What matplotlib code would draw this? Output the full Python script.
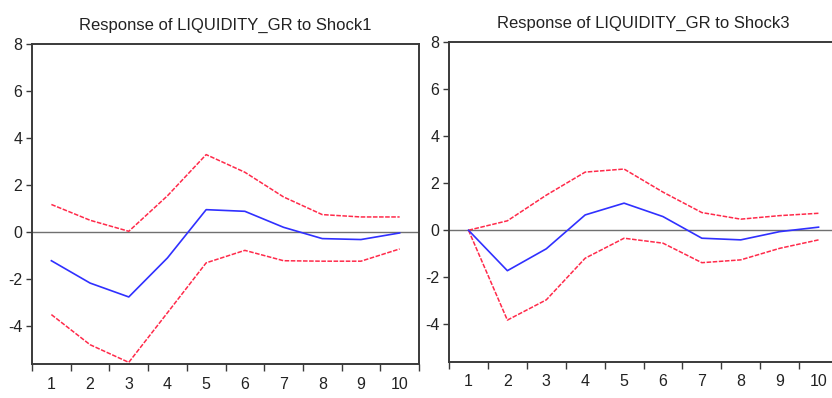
import numpy as np
from matplotlib import pyplot as plt
from matplotlib.ticker import FixedLocator

plt.rcParams['font.family'] = ['Liberation Sans', 'DejaVu Sans']
plt.rcParams['axes.unicode_minus'] = False

periods = [1, 2, 3, 4, 5, 6, 7, 8, 9, 10]

# Shock1
resp1 = [-1.21, -2.16, -2.75, -1.09, 0.96, 0.89, 0.21, -0.27, -0.31, -0.03]
upper1 = [1.18, 0.51, 0.04, 1.55, 3.30, 2.55, 1.50, 0.75, 0.65, 0.65]
lower1 = [-3.50, -4.78, -5.53, -3.42, -1.30, -0.77, -1.21, -1.23, -1.23, -0.71]

# Shock3
resp3 = [0.0, -1.72, -0.79, 0.65, 1.15, 0.58, -0.34, -0.41, -0.06, 0.13]
upper3 = [0.0, 0.40, 1.49, 2.47, 2.60, 1.62, 0.75, 0.47, 0.62, 0.72]
lower3 = [0.0, -3.82, -2.96, -1.19, -0.34, -0.55, -1.38, -1.26, -0.77, -0.41]

titles = ['Response of LIQUIDITY_GR to Shock1', 'Response of LIQUIDITY_GR to Shock3']
yticks = [-4, -2, 0, 2, 4, 6, 8]

fig = plt.figure(figsize=(8.32, 3.98), dpi=100)
ax1 = fig.add_axes([0.0385, 0.0854, 0.4651, 0.804])
ax2 = fig.add_axes([0.5397, 0.0905, 0.4675, 0.804])

spine_col = '#3a3a3a'
for ax, r, up, lo, t in [(ax1, resp1, upper1, lower1, titles[0]),
                         (ax2, resp3, upper3, lower3, titles[1])]:
    ax.axhline(0, color='#707070', lw=1.0, zorder=1)
    ax.plot(periods, up, color='#ff2a4a', lw=1.1, dashes=(3, 1))
    ax.plot(periods, lo, color='#ff2a4a', lw=1.1, dashes=(3, 1))
    ax.plot(periods, r, color='#3030ff', lw=1.2)
    ax.set_xlim(0.5, 10.5)
    ax.set_ylim(-5.6, 8)
    ax.set_yticks(yticks)
    ax.set_xticks(periods)
    ax.xaxis.set_minor_locator(FixedLocator(np.arange(0.5, 11, 1)))
    ax.tick_params(axis='x', which='major', length=0, pad=9, labelsize=11.5, colors='#222222')
    ax.tick_params(axis='x', which='minor', length=5, width=1, color=spine_col)
    ax.tick_params(axis='y', length=4, width=1, color=spine_col, labelsize=11.5,
                   labelcolor='#222222', pad=3)
    for s in ax.spines.values():
        s.set_color(spine_col)
        s.set_linewidth(1.4)
    ax.set_title(t, fontsize=12, color='#222222', pad=10)

fig.savefig('out.png', dpi=100)
